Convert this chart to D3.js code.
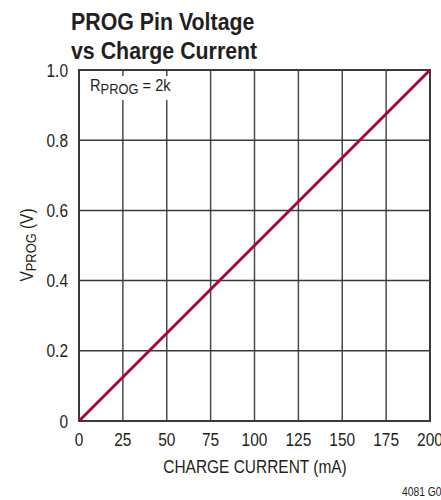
<!DOCTYPE html>
<html>
<head>
<meta charset="utf-8">
<script src="https://cdn.jsdelivr.net/npm/d3@7"></script>
<style>
  body { margin: 0; background: #fff; }
  svg { display: block; }
  text { font-family: "Liberation Sans Narrow", "Liberation Sans", Arial, sans-serif; fill: #231f20; }
</style>
</head>
<body>
<svg width="441" height="500"></svg>
<script>
// charge current (mA) vs PROG pin voltage (V)
var currentMA = [0, 200];
var vprog = [0, 1.0];
var xTicks = [0, 25, 50, 75, 100, 125, 150, 175, 200];
var yTicks = [0, 0.2, 0.4, 0.6, 0.8, 1.0];
var yTickLabels = ["0", "0.2", "0.4", "0.6", "0.8", "1.0"];

var SQ = 0.86; // squeeze text sideways, the original uses a condensed face

function label(g, x, y, size, anchor, rot){
  var t = g.append("text")
    .attr("transform", "translate(" + x + "," + y + ")" + (rot ? " rotate(" + rot + ")" : "") + " scale(" + SQ + ",1)")
    .attr("text-anchor", anchor || "start")
    .style("font-size", size + "px");
  return t;
}

function drawChart(){
  var svg = d3.select("svg");
  var pL = 79, pR = 430, pT = 70, pB = 421;

  var x = d3.scaleLinear().domain([0, 200]).range([pL, pR]);
  var y = d3.scaleLinear().domain([0, 1]).range([pB, pT]);

  // grid
  svg.append("g").selectAll("line")
    .data(xTicks.slice(1, -1))
    .enter().append("line")
    .attr("x1", function(d){ return x(d); })
    .attr("x2", function(d){ return x(d); })
    .attr("y1", pT).attr("y2", pB)
    .style("stroke", "#4a4a4a").style("stroke-width", 1.5);

  svg.append("g").selectAll("line")
    .data(yTicks.slice(1, -1))
    .enter().append("line")
    .attr("x1", pL).attr("x2", pR)
    .attr("y1", function(d){ return y(d); })
    .attr("y2", function(d){ return y(d); })
    .style("stroke", "#3a3a3a").style("stroke-width", 1.5);

  // white patch behind the annotation
  svg.append("rect")
    .attr("x", pL + 7).attr("y", pT + 6)
    .attr("width", 100).attr("height", 24)
    .style("fill", "#fff");

  // frame
  svg.append("rect")
    .attr("x", pL).attr("y", pT)
    .attr("width", pR - pL).attr("height", pB - pT)
    .style("fill", "none").style("stroke", "#3a3a3a").style("stroke-width", 2);

  // data line
  var line = d3.line()
    .x(function(d, i){ return x(currentMA[i]); })
    .y(function(d){ return y(d); });
  svg.append("path")
    .datum(vprog)
    .attr("d", line)
    .style("fill", "none")
    .style("stroke", "#9e0b35")
    .style("stroke-width", 3);

  // tick labels
  xTicks.forEach(function(d){
    label(svg, x(d), pB + 25, 18, "middle").text(d);
  });
  yTicks.forEach(function(d, i){
    label(svg, pL - 11, y(d) + 6.5, 18, "end").text(yTickLabels[i]);
  });

  // annotation
  var ann = label(svg, pL + 11, pT + 21, 17, "start");
  ann.append("tspan").text("R");
  ann.append("tspan").attr("dy", 3).style("font-size", "15px").text("PROG");
  ann.append("tspan").attr("dy", -3).text(" = 2k");

  // axis titles
  label(svg, (pL + pR) / 2 + 0.5, 473, 18, "middle").text("CHARGE CURRENT (mA)");

  var yl = label(svg, 33, 245, 18, "middle", -90);
  yl.append("tspan").text("V");
  yl.append("tspan").attr("dy", 3).style("font-size", "15px").text("PROG");
  yl.append("tspan").attr("dy", -3).text(" (V)");

  // title
  SQ = 0.89;
  label(svg, 71, 30, 24, "start").style("font-weight", "bold").text("PROG Pin Voltage");
  label(svg, 71, 59, 24, "start").style("font-weight", "bold").text("vs Charge Current");

  SQ = 0.86;
  label(svg, 402, 496, 12, "start").text("4081 G05");
}

drawChart();
</script>
</body>
</html>
